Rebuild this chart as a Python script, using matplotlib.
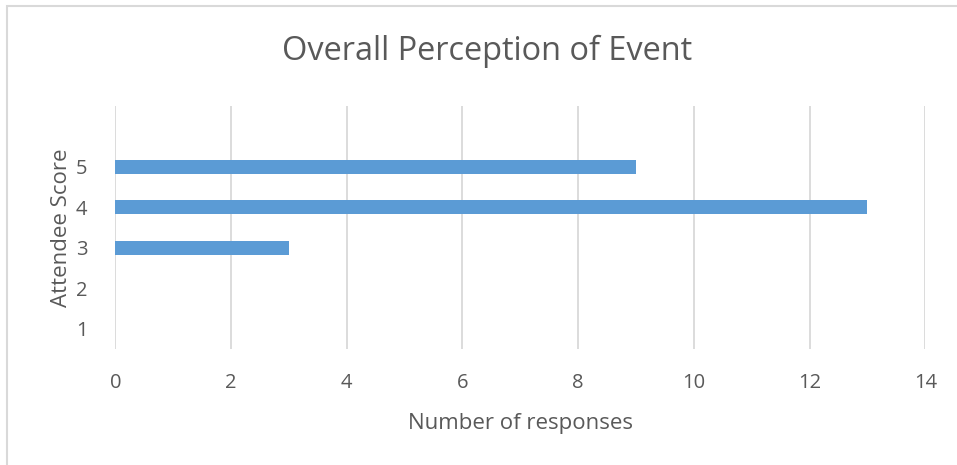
import matplotlib.pyplot as plt
from matplotlib.patches import Rectangle

plt.rcParams['font.family'] = ['Open Sans', 'DejaVu Sans']

scores = ['1', '2', '3', '4', '5']
responses = [0, 0, 3, 13, 9]
xticks = [0, 2, 4, 6, 8, 10, 12, 14]

text_col = '#595959'
grid_col = '#D9D9D9'
bar_col = '#5B9BD5'

fig = plt.figure(figsize=(9.57, 4.65), dpi=100)
W, H = 957, 465

# outer chart frame (runs off the right and bottom edges)
fig.patches.append(Rectangle((7 / W, -0.1), 1.2, 1 - 6 / H + 0.1,
                             transform=fig.transFigure, fill=False,
                             edgecolor=grid_col, linewidth=1.5))

ax = fig.add_axes([115.3 / W, 1 - 349 / H, 810 / W, 243 / H])

pos = list(range(len(scores)))
ax.barh(pos, responses, height=0.35, color=bar_col, zorder=3)

ax.set_xlim(0, 14)
ax.set_ylim(-0.5, 5.5)
ax.set_xticks(xticks)
ax.set_yticks(pos)
ax.set_yticklabels(scores)
ax.grid(axis='x', color=grid_col, linewidth=1.3, zorder=0)
for s in ax.spines.values():
    s.set_visible(False)
ax.tick_params(length=0, labelsize=14.5, colors=text_col)
ax.tick_params(axis='x', pad=17)
ax.tick_params(axis='y', pad=20)

ax.set_xlabel('Number of responses', fontsize=16, color=text_col, labelpad=15)
ax.set_ylabel('Attendee Score', fontsize=16, color=text_col, labelpad=3)
fig.text(0.509, 1 - 51 / H, 'Overall Perception of Event', ha='center',
         va='center', fontsize=23.4, color=text_col)

fig.savefig('out.png', dpi=100)
